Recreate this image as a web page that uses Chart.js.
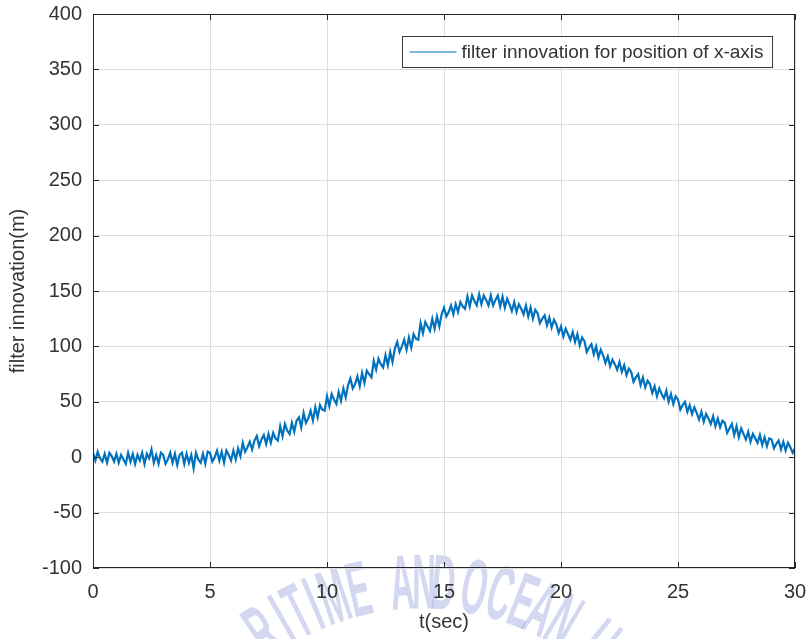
<!DOCTYPE html>
<html>
<head>
<meta charset="utf-8">
<script src="https://cdn.jsdelivr.net/npm/chart.js@4.4.1/dist/chart.umd.min.js"></script>
<style>
  body { margin: 0; background: #fff; }
  canvas { display: block; }
</style>
</head>
<body>
<canvas id="chart" width="810" height="639"></canvas>
<script>
// filter innovation (m), one value every 0.1 s from t = 0 to t = 30
const innovation = [
    4, -3, 5, -1, -4, 3, -5, 4, 1, -4,
    3, -5, 2, -2, -6, 4, -4, 3, -6, 2,
    -3, 4, -6, 3, -1, 7, -5, 2, -6, 4,
    2, -6, -2, 4, -5, 3, -7, 2, 4, -6,
    3, -5, 2, -10, 4, -2, -5, 3, -6, 5,
    4, -4, 0, 6, -3, 5, -5, 6, 2, -3,
    6, -2, 8, 1, 13, 5, 9, 14, 7, 15,
    19, 10, 16, 20, 12, 21, 13, 22, 17, 15,
    28, 19, 30, 24, 21, 31, 23, 33, 36, 27,
    40, 31, 35, 42, 33, 45, 36, 47, 43, 42,
    55, 46, 57, 52, 48, 59, 51, 62, 54, 65,
    71, 62, 66, 73, 64, 76, 67, 78, 75, 72,
    87, 79, 89, 84, 81, 92, 83, 95, 86, 98,
    104, 95, 100, 106, 97, 108, 99, 111, 107, 106,
    121, 112, 122, 118, 114, 125, 116, 127, 118, 129,
    135, 127, 131, 137, 129, 138, 131, 140, 136, 134,
    145, 136, 146, 141, 137, 147, 138, 146, 142, 137,
    146, 137, 142, 146, 136, 145, 135, 143, 138, 132,
    140, 131, 138, 134, 129, 137, 127, 135, 125, 133,
    130, 121, 125, 128, 119, 126, 117, 124, 120, 112,
    118, 109, 116, 111, 106, 113, 104, 111, 101, 108,
    105, 95, 99, 102, 93, 100, 90, 97, 92, 85,
    91, 82, 88, 84, 79, 86, 77, 83, 74, 80,
    77, 68, 72, 75, 65, 72, 63, 69, 66, 58,
    64, 55, 62, 57, 53, 60, 50, 57, 48, 55,
    52, 43, 47, 50, 41, 47, 39, 45, 40, 34,
    41, 32, 39, 35, 30, 37, 28, 35, 27, 33,
    31, 22, 26, 30, 20, 28, 18, 26, 21, 16,
    23, 14, 21, 17, 13, 20, 11, 18, 10, 17,
    16, 8, 12, 15, 7, 14, 6, 13, 9, 4,
    8
];
const dt = 0.1;

const xTicks = [0, 5, 10, 15, 20, 25, 30];
const yTicks = [-100, -50, 0, 50, 100, 150, 200, 250, 300, 350, 400];

const seriesLabel = "filter innovation for position of x-axis";
const xTitle = "t(sec)";
const yTitle = "filter innovation(m)";

// watermark letters (thesis stamp) and their angle on the arc, in degrees
const stampLetters = ["R", "I", "T", "I", "M", "E", "A", "N", "D", "O", "C", "E", "A", "N", "U"];
const stampAngles = [-34.6, -29.8, -26.3, -22.7, -18.3, -13, -4.1, 0.4, 4.4, 10.8, 16.2, 21.2, 25.3, 30.3, 39];

const lineColor = "#0072BD";
const textColor = "#333333";
const font = "'Liberation Sans', Arial, sans-serif";

const points = innovation.map((v, i) => ({ x: +(i * dt).toFixed(1), y: v }));

// keep the plot box where the figure has it: no extra room for end labels
function fixPadding(s) {
    s.paddingTop = 0;
    s.paddingBottom = 0;
    s.paddingLeft = 0;
    s.paddingRight = 0;
}

const matlabBox = {
    id: "matlabBox",
    beforeDraw(chart) {
        // faint university stamp across the bottom of the figure
        const { ctx } = chart;
        ctx.save();
        ctx.fillStyle = "rgba(140, 150, 215, 0.38)";
        ctx.font = "bold 78px 'Liberation Sans', sans-serif";
        ctx.textAlign = "center";
        ctx.textBaseline = "middle";
        const cx = 422, cy = 863, r = 280;
        stampLetters.forEach((ch, i) => {
            const ang = stampAngles[i] * Math.PI / 180;
            ctx.save();
            ctx.translate(cx + r * Math.sin(ang), cy - r * Math.cos(ang));
            ctx.rotate(ang);
            ctx.scale(0.42, 1);
            ctx.fillText(ch, 0, 4);
            ctx.restore();
        });
        ctx.restore();
    },
    afterDatasetsDraw(chart) {
        const { ctx, chartArea: a, scales: { x, y } } = chart;
        ctx.save();
        ctx.strokeStyle = "#262626";
        ctx.lineWidth = 1;
        ctx.strokeRect(a.left + 0.5, a.top + 0.5, a.width - 1, a.height - 1);

        // inward tick marks on all four sides
        ctx.beginPath();
        xTicks.forEach(v => {
            const px = Math.round(x.getPixelForValue(v)) + 0.5;
            ctx.moveTo(px, a.bottom); ctx.lineTo(px, a.bottom - 6);
            ctx.moveTo(px, a.top); ctx.lineTo(px, a.top + 6);
        });
        yTicks.forEach(v => {
            const py = Math.round(y.getPixelForValue(v)) + 0.5;
            ctx.moveTo(a.left, py); ctx.lineTo(a.left + 6, py);
            ctx.moveTo(a.right, py); ctx.lineTo(a.right - 6, py);
        });
        ctx.stroke();

        // legend box, top right inside the axes
        ctx.font = "19px " + font;
        const tw = ctx.measureText(seriesLabel).width;
        const boxW = 7 + 47 + 5 + tw + 9;
        const boxH = 31;
        const bx = Math.round(a.right - 23 - boxW) + 0.5;
        const by = a.top + 22 + 0.5;
        ctx.fillStyle = "#fff";
        ctx.fillRect(bx, by, boxW, boxH);
        ctx.strokeStyle = "#3a3a3a";
        ctx.strokeRect(bx, by, boxW, boxH);
        ctx.strokeStyle = lineColor;
        ctx.lineWidth = 1.2;
        ctx.beginPath();
        ctx.moveTo(bx + 7, by + boxH / 2);
        ctx.lineTo(bx + 54, by + boxH / 2);
        ctx.stroke();
        ctx.fillStyle = textColor;
        ctx.textBaseline = "middle";
        ctx.fillText(seriesLabel, bx + 59, by + boxH / 2 + 1);
        ctx.restore();
    }
};

new Chart(document.getElementById("chart"), {
    type: "line",
    data: {
        datasets: [{
            label: seriesLabel,
            data: points,
            borderColor: lineColor,
            borderWidth: 2.2,
            pointRadius: 0,
            tension: 0,
            fill: false
        }]
    },
    options: {
        responsive: false,
        animation: false,
        layout: { padding: { top: 14, right: 15, left: 0, bottom: 0 } },
        plugins: { legend: { display: false }, tooltip: { enabled: false } },
        scales: {
            x: {
                type: "linear",
                min: 0,
                max: 30,
                afterBuildTicks: s => { s.ticks = xTicks.map(v => ({ value: v })); },
                afterFit: s => { s.height = 71; fixPadding(s); },
                grid: { color: "#dedede", drawTicks: false },
                border: { display: false },
                ticks: { padding: 12, color: textColor, font: { family: font, size: 20 }, maxRotation: 0 },
                title: { display: true, text: xTitle, color: textColor, font: { family: font, size: 20 }, padding: { top: 0, bottom: 5 } }
            },
            y: {
                type: "linear",
                min: -100,
                max: 400,
                afterBuildTicks: s => { s.ticks = yTicks.map(v => ({ value: v })); },
                afterFit: s => { s.width = 93; fixPadding(s); },
                grid: { color: "#dedede", drawTicks: false },
                border: { display: false },
                ticks: { padding: 11, color: textColor, font: { family: font, size: 20 } },
                title: { display: true, text: yTitle, color: textColor, font: { family: font, size: 20 }, padding: { top: 6, bottom: 0 } }
            }
        }
    },
    plugins: [matlabBox]
});
</script>
</body>
</html>
